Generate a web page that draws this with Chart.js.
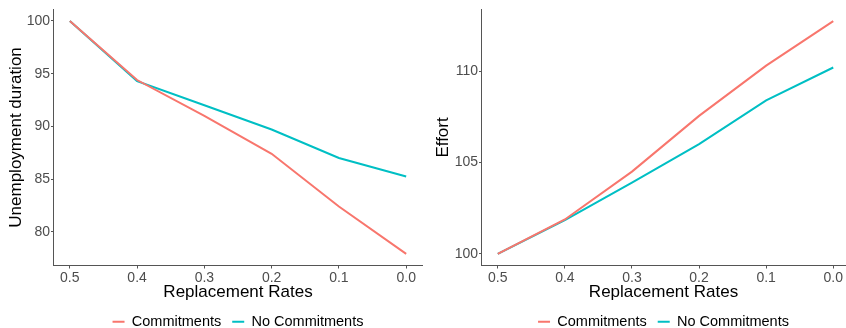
<!DOCTYPE html>
<html>
<head>
<meta charset="utf-8">
<script src="https://cdn.jsdelivr.net/npm/chart.js@4"></script>
<style>
  html, body { margin: 0; padding: 0; background: #fff; }
  .wrap { display: flex; width: 846px; height: 328px; }
  .panel { position: relative; width: 423px; height: 328px; }
</style>
</head>
<body>
<div class="wrap">
  <div class="panel"><canvas id="durationChart"></canvas></div>
  <div class="panel"><canvas id="effortChart"></canvas></div>
</div>
<script>
const rates = [0.5, 0.4, 0.3, 0.2, 0.1, 0.0];
const rateTicks = [0.5, 0.4, 0.3, 0.2, 0.1, 0.0];
const seriesNames = ["Commitments", "No Commitments"];

const durationCommit = [100, 94.4, 91.0, 87.4, 82.4, 77.9];
const durationNoCommit = [100, 94.3, 92.0, 89.7, 87.0, 85.25];
const durationTicks = [80, 85, 90, 95, 100];

const effortCommit = [100, 101.88, 104.5, 107.55, 110.3, 112.74];
const effortNoCommit = [100, 101.84, 103.9, 106.0, 108.4, 110.2];
const effortTicks = [100, 105, 110];

const colors = ["#F8766D", "#00BFC4"];
const axisColor = "#555555";
const font = "'Liberation Sans', Arial, sans-serif";

function toPoints(vals) {
  return rates.map((r, i) => ({ x: r, y: vals[i] }));
}

function makeChart(canvasId, yTitle, series, yTicks, yMin, yMax, xMin, yAxisWidth, titleGap) {
  return new Chart(document.getElementById(canvasId), {
    type: "line",
    data: {
      datasets: series.map((vals, i) => ({
        label: seriesNames[i],
        data: toPoints(vals),
        borderColor: colors[i],
        backgroundColor: colors[i],
        borderWidth: 2,
        pointRadius: 0,
        tension: 0,
      })),
    },
    options: {
      responsive: true,
      maintainAspectRatio: false,
      animation: false,
      // negative bottom padding lets the legend sit close to the canvas edge
      layout: { padding: { top: 7, right: 0, bottom: -11, left: 0 } },
      plugins: {
        tooltip: { enabled: false },
        legend: {
          position: "bottom",
          fullSize: false,
          labels: {
            usePointStyle: true,
            pointStyle: "line",
            pointStyleWidth: 12,
            boxWidth: 12,
            padding: 11,
            color: "#000",
            font: { family: font, size: 14.5 },
          },
        },
      },
      scales: {
        x: {
          type: "linear",
          reverse: true,
          min: xMin,
          max: 0.525,
          afterBuildTicks: (axis) => {
            axis.ticks = rateTicks.map((v) => ({ value: v }));
          },
          afterFit: (axis) => {
            axis.height = 38;
          },
          grid: { drawOnChartArea: false, drawTicks: true, tickLength: 3, color: axisColor },
          border: { display: true, color: axisColor, width: 1 },
          ticks: {
            padding: 1,
            color: "#4d4d4d",
            font: { family: font, size: 14 },
            callback: (v) => Number(v).toFixed(1),
            maxRotation: 0,
          },
          title: {
            display: true,
            text: "Replacement Rates",
            color: "#000",
            padding: { top: 0, bottom: 1 },
            font: { family: font, size: 17 },
          },
        },
        y: {
          min: yMin,
          max: yMax,
          afterBuildTicks: (axis) => {
            axis.ticks = yTicks.map((v) => ({ value: v }));
          },
          afterFit: (axis) => {
            axis.width = yAxisWidth;
          },
          grid: { drawOnChartArea: false, drawTicks: true, tickLength: 2, color: axisColor },
          border: { display: true, color: axisColor, width: 1 },
          ticks: {
            padding: 1,
            color: "#4d4d4d",
            font: { family: font, size: 14 },
          },
          title: {
            display: true,
            text: yTitle,
            color: "#000",
            padding: { top: titleGap, bottom: 2 },
            font: { family: font, size: 17 },
          },
        },
      },
    },
  });
}

makeChart("durationChart", "Unemployment duration", [durationCommit, durationNoCommit],
  durationTicks, 76.8, 101.1, -0.025, 53, 6);
makeChart("effortChart", "Effort", [effortCommit, effortNoCommit],
  effortTicks, 99.36, 113.38, -0.019, 58, 10);
</script>
</body>
</html>
